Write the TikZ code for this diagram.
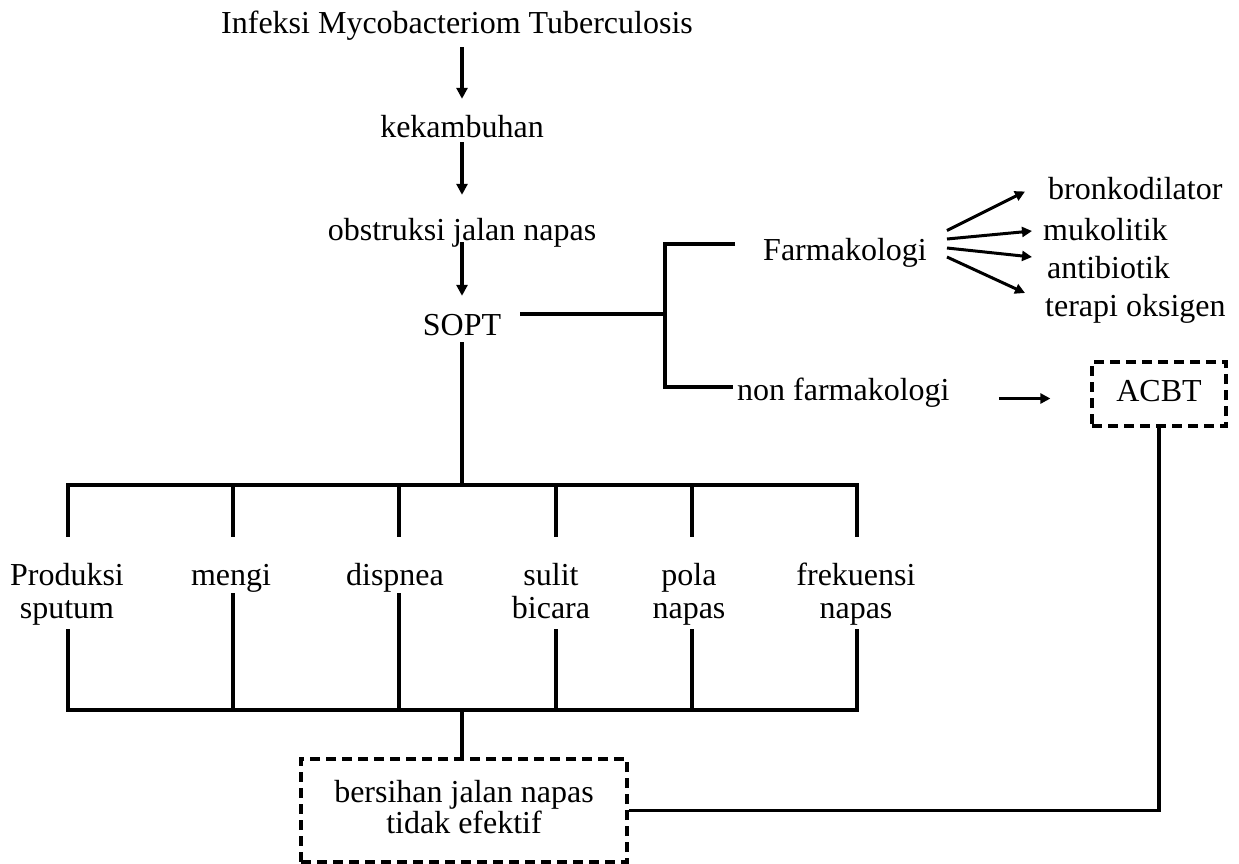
\documentclass[tikz,border=0pt]{standalone}
\usepackage{fontspec}
\setmainfont{Liberation Serif}
\usetikzlibrary{arrows.meta}
\newcommand{\stt}{\rule[-7pt]{0pt}{29pt}}
\begin{document}
\begin{tikzpicture}[x=1pt,y=-1pt,
  every node/.style={font=\fontsize{32}{33}\selectfont, inner sep=0pt, align=center},
  tx/.style={text height=22pt, text depth=7pt},
  varr/.style={line width=3.5pt, -{Triangle[length=11pt,width=11pt]}},
  sarr/.style={line width=3pt, -{Triangle[length=10pt,width=10pt]}},
  ln/.style={line width=4.5pt},
  lnb/.style={line width=3.2pt},
  dbox/.style={draw, line width=3.2pt, dash pattern=on 10pt off 6pt},
]
\useasboundingbox (0,0) rectangle (1239,863);

% main chain
\node[tx] (inf) at (457,25.5) {Infeksi Mycobacteriom Tuberculosis};
\node[tx] (kek) at (462,129.5) {kekambuhan};
\node[tx] (obs) at (462,232.5) {obstruksi jalan napas};
\node[tx] (sopt) at (462,327.5) {SOPT};

% right branch
\node[tx] (farm) at (845,252.5) {Farmakologi};
\node[tx, anchor=west] (bronk) at (1048,191.5) {bronkodilator};
\node[tx, anchor=west] (muko) at (1043,232.5) {mukolitik};
\node[tx, anchor=west] (anti) at (1047,270.5) {antibiotik};
\node[tx, anchor=west] (tera) at (1045,308.5) {terapi oksigen};
\node[tx, anchor=west] (nonf) at (737,392.5) {non farmakologi};
\node[tx, dbox, minimum width=134pt, minimum height=64pt] (acbt) at (1159,394) {ACBT};

% symptoms
\node (p1) at (67,594) {\stt Produksi\\\stt sputum};
\node[tx] (p2) at (231,577.5) {mengi};
\node[tx] (p3) at (395,577.5) {dispnea};
\node (p4) at (551,594) {\stt sulit\\\stt bicara};
\node (p5) at (689,594) {\stt pola\\\stt napas};
\node (p6) at (856,594) {\stt frekuensi\\\stt napas};

% result box
\node[dbox, minimum width=326pt, minimum height=103pt, font=\fontsize{32}{31}\selectfont] (bers) at (464,810.5) {\stt bersihan jalan napas\\\stt tidak efektif};

% coordinates
\coordinate (bm) at (665,314);
\coordinate (btop) at (665,244);
\coordinate (bbot) at (665,387);
\foreach \i/\x in {1/68,2/233,3/399,4/556,5/692,6/857}{
  \coordinate (t\i) at (\x,485);
  \coordinate (b\i) at (\x,710);
}
\coordinate (tc) at (462,485);
\coordinate (bc) at (462,710);

% arrows of the chain
\draw[varr, shorten <=7pt, shorten >=16pt] (inf.south -| kek.south) -- (kek.north);
\draw[varr, shorten <=-2pt, shorten >=23pt] (kek.south) -- (obs.north);
\draw[varr, shorten <=-5pt, shorten >=17pt] (obs.south) -- (sopt.north);

% bracket
\draw[ln] ([xshift=19pt]sopt.east |- bm) -- (bm);
\draw[ln] ([xshift=-28pt]farm.west |- btop) -- (btop) -- (bbot) -- ([xshift=-4pt]nonf.west |- bbot);

% farmakologi arrows
\draw[sarr] ([xshift=20pt,yshift=22pt]farm.east) -- ([xshift=-23pt]bronk.west);
\draw[sarr] ([xshift=20pt,yshift=13.5pt]farm.east) -- ([xshift=-11pt,yshift=1.5pt]muko.west);
\draw[sarr] ([xshift=20pt,yshift=4.5pt]farm.east) -- ([xshift=-15pt,yshift=13.5pt]anti.west);
\draw[sarr] ([xshift=20pt,yshift=-4.5pt]farm.east) -- ([xshift=-20pt,yshift=15.5pt]tera.west);

% non farmakologi -> ACBT
\draw[sarr] ([xshift=49pt,yshift=-6pt]nonf.east) -- ([xshift=-40pt,yshift=-6pt]nonf.east -| acbt.west);

% tree
\draw[ln] (sopt.south) -- (tc);
\draw[ln] ([yshift=26pt]p1.north -| t1) -- (t1) -- (t6) -- ([yshift=26pt]p6.north -| t6);
\foreach \i in {2,...,5}{\draw[ln] (t\i) -- ([yshift=26pt]p\i.north -| t\i);}
\draw[ln] ([yshift=-4pt]p1.south -| b1) -- (b1) -- (b6) -- ([yshift=-4pt]p6.south -| b6);
\draw[ln] ([yshift=-1pt]p2.south -| b2) -- (b2);
\draw[ln] ([yshift=-1pt]p3.south -| b3) -- (b3);
\draw[ln] ([yshift=-4pt]p4.south -| b4) -- (b4);
\draw[ln] ([yshift=-4pt]p5.south -| b5) -- (b5);
\draw[ln] (bc) -- (bc |- bers.north);

% ACBT -> result
\draw[lnb] (acbt.south) |- (bers.east);
\end{tikzpicture}
\end{document}
